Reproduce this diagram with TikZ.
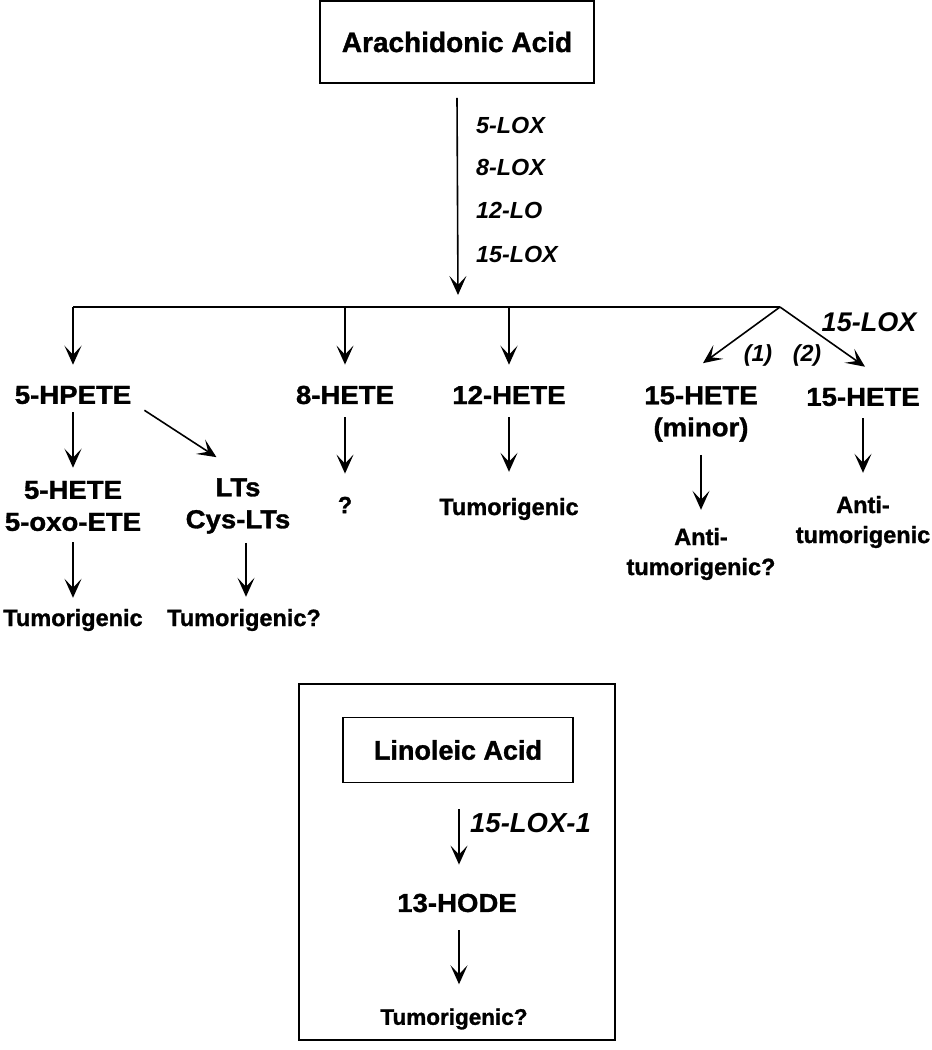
\documentclass[tikz,border=0pt]{standalone}
\usepackage{fontspec}
\setmainfont{Liberation Sans}[BoldFeatures={FakeBold=1.2}]
\newfontfamily\widesf{Liberation Sans}[FakeStretch=1.06, BoldFeatures={FakeBold=1.2}]
\usetikzlibrary{arrows.meta}

\begin{document}
\begin{tikzpicture}[x=1pt, y=-1pt,
  lbl/.style = {font=\widesf\bfseries\fontsize{26}{32}\selectfont, align=center, inner sep=0pt},
  res/.style = {font=\bfseries\fontsize{23.5}{30}\selectfont, align=center, inner sep=0pt},
  enz/.style = {font=\bfseries\itshape\fontsize{23.3}{26}\selectfont, inner sep=0pt},
  acid/.style = {draw, line width=1.6pt, inner sep=0pt},
  arr/.style = {line width=1.6pt, -{Stealth[length=19pt, width=17pt, inset=9pt]}}]

\useasboundingbox (0,0) rectangle (932,1050);

% arachidonic acid
\node[acid, minimum width=274, minimum height=82, font=\bfseries\fontsize{28}{32}\selectfont] (aa) at (457,42) {Arachidonic Acid};

\node[enz, anchor=west] (e5) at (476,125) {5-LOX};
\node[enz, anchor=west] (e8) at (476,167) {8-LOX};
\node[enz, anchor=west] (e12) at (476,210) {12-LO};
\node[enz, anchor=west] (e15) at (476,254) {15-LOX};

\coordinate (bm) at (458,307);
\coordinate (bl) at (73,307);
\coordinate (b8) at (345,307);
\coordinate (b12) at (509,307);
\coordinate (br) at (780,307);

\node[lbl] (hpete) at (73,395) {5-HPETE};
\node[lbl] (h8) at (345,395) {8-HETE};
\node[lbl] (h12) at (509,395) {12-HETE};
\node[lbl] (h15m) at (701,414) {15-HETE\\(minor)};
\node[lbl] (h15) at (863,397) {15-HETE};

\node[lbl] (hete5) at (73,506) {5-HETE\\5-oxo-ETE};
\node[lbl] (lts) at (238,506) {LTs\\Cys-LTs};
\node[res] (q8) at (345,505) {?};
\node[res] (tum12) at (509,509) {Tumorigenic};
\node[res] (anti15m) at (701,554) {Anti-\\tumorigenic?};
\node[res] (anti15) at (863,522) {Anti-\\tumorigenic};

\node[res] (tum5) at (73,620) {Tumorigenic};
\node[res] (tumq) at (244,620) {Tumorigenic?};

\node[enz, font=\bfseries\itshape\fontsize{27}{30}\selectfont] (lox15) at (869,322) {15-LOX};
\node[enz] (n1) at (758,355) {(1)};
\node[enz] (n2) at (807,355) {(2)};

\draw[arr] ([yshift=-14]aa.south) -- ([yshift=12]bm);
\draw[line width=1.6pt] (bl) -- (br);

\draw[arr] (bl) -- ([yshift=21]hpete.north);
\draw[arr] (b8) -- ([yshift=21]h8.north);
\draw[arr] (b12) -- ([yshift=21]h12.north);
\draw[arr] (br) -- ([xshift=2, yshift=23]h15m.north);
\draw[arr] (br) -- ([xshift=2, yshift=21]h15.north);

\draw[arr] ([yshift=-8]hpete.south) -- ([yshift=13]hete5.north);
\draw[arr] ([xshift=13, yshift=-6]hpete.south east) -- ([xshift=31, yshift=21]lts.north west);
\draw[arr] ([yshift=-13]h8.south) -- ([yshift=23]q8.north);
\draw[arr] ([yshift=-13]h12.south) -- ([yshift=26]tum12.north);
\draw[arr] ([yshift=-13]h15m.south) -- ([yshift=18]anti15m.north);
\draw[arr] ([yshift=-12]h15.south) -- ([yshift=23]anti15.north);

\draw[arr] ([yshift=-11]hete5.south) -- ([yshift=11]tum5.north);
\draw[arr] ([xshift=8, yshift=-9]lts.south) -- ([xshift=2, yshift=12]tumq.north);

% linoleic acid
\node[acid, minimum width=316, minimum height=356] (panel) at (457,862) {};
\node[acid, minimum width=230, minimum height=65, font=\bfseries\fontsize{27}{30}\selectfont] (la) at (458,750) {Linoleic Acid};
\node[enz, anchor=west, font=\bfseries\itshape\fontsize{27.5}{30}\selectfont] (lox1) at (470,823) {15-LOX-1};
\node[lbl] (hode) at (457,903) {13-HODE};
\node[res, font=\bfseries\fontsize{22.5}{26}\selectfont] (tuml) at (454,1019) {Tumorigenic?};

\draw[arr] ([xshift=1, yshift=-26]la.south) -- ([xshift=2, yshift=29]hode.north);
\draw[arr] ([xshift=2, yshift=-18]hode.south) -- ([xshift=5, yshift=24]tuml.north);

\end{tikzpicture}
\end{document}
